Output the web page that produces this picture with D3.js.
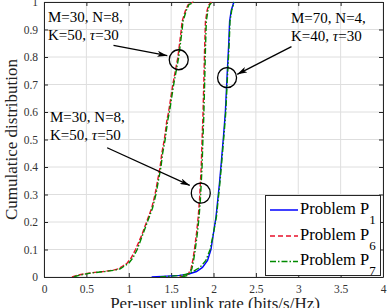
<!DOCTYPE html>
<html><head><meta charset="utf-8">
<script src="https://cdn.jsdelivr.net/npm/d3@7/dist/d3.min.js"></script>
<style>body{margin:0;background:#fff}svg{display:block}text{font-family:"Liberation Serif","Times New Roman",serif}</style>
</head><body><svg id="c" width="392" height="308"></svg>
<script>
// ---- data ----
const xTicks = [0, 0.5, 1, 1.5, 2, 2.5, 3, 3.5, 4];
const yTicks = [0, 0.1, 0.2, 0.3, 0.4, 0.5, 0.6, 0.7, 0.8, 0.9, 1];
const xTickLabels = ["0", "0.5", "1", "1.5", "2", "2.5", "3", "3.5", "4"];
const yTickLabels = ["0", "0.1", "0.2", "0.3", "0.4", "0.5", "0.6", "0.7", "0.8", "0.9", "1"];

// Group A: M=30,N=8,K=50,tau=30
const cdfA = [0, 0.005, 0.01, 0.015, 0.02, 0.025, 0.03, 0.04, 0.05, 0.07, 0.1, 0.15, 0.2, 0.25, 0.3, 0.35, 0.4, 0.45, 0.5, 0.57, 0.6, 0.7, 0.8, 0.9, 0.93, 0.97, 0.99, 1];
const rateA_P6 = [0.33, 0.38, 0.45, 0.55, 0.70, 0.82, 0.88, 0.93, 0.98, 1.03, 1.08, 1.15, 1.21, 1.27, 1.31, 1.34, 1.37, 1.39, 1.42, 1.45, 1.47, 1.52, 1.58, 1.62, 1.63, 1.67, 1.70, 1.76];
const rateA_P7 = [0.35, 0.40, 0.47, 0.57, 0.72, 0.84, 0.90, 0.95, 1.00, 1.05, 1.10, 1.16, 1.22, 1.28, 1.32, 1.35, 1.38, 1.40, 1.43, 1.46, 1.48, 1.53, 1.59, 1.63, 1.64, 1.68, 1.71, 1.77];
// Group B: M=30,N=8,K=50,tau=50
const cdfB = [0, 0.005, 0.015, 0.03, 0.06, 0.1, 0.16, 0.22, 0.28, 0.4, 0.5, 0.58, 0.7, 0.83, 0.88, 0.93, 0.97, 0.99, 1];
const rateB_P6 = [1.60, 1.68, 1.71, 1.735, 1.755, 1.775, 1.80, 1.82, 1.835, 1.855, 1.865, 1.875, 1.885, 1.895, 1.90, 1.905, 1.925, 1.945, 1.975];
const rateB_P7 = [1.62, 1.69, 1.72, 1.745, 1.765, 1.785, 1.81, 1.83, 1.845, 1.865, 1.875, 1.885, 1.895, 1.905, 1.91, 1.915, 1.935, 1.955, 1.985];
// Group C: M=70,N=4,K=40,tau=30
const cdfC = [0, 0.003, 0.006, 0.01, 0.02, 0.035, 0.06, 0.1, 0.16, 0.22, 0.34, 0.41, 0.52, 0.6, 0.73, 0.85, 0.93, 0.97, 1];
const rateC_P1 = [1.27, 1.45, 1.60, 1.70, 1.80, 1.87, 1.93, 1.97, 2.00, 2.03, 2.07, 2.09, 2.12, 2.14, 2.16, 2.18, 2.19, 2.21, 2.24];
const rateC_P7 = [1.37, 1.50, 1.62, 1.68, 1.76, 1.84, 1.91, 1.96, 2.00, 2.035, 2.075, 2.095, 2.125, 2.145, 2.165, 2.185, 2.195, 2.215, 2.245];

const seriesNames = ["Problem P", "Problem P", "Problem P"];
const seriesSubs = ["1", "6", "7"];
const annotLines = [["M=30, N=8,", "K=50, ", "=30"], ["M=30, N=8,", "K=50, ", "=50"], ["M=70, N=4,", "K=40, ", "=30"]];

// ---- layout ----
const W = 392, H = 308;
const m = {l: 44, t: 2, r: 9, b: 31};
const pw = W - m.l - m.r, ph = H - m.t - m.b;
const svg = d3.select("#c");
const x = d3.scaleLinear().domain([0, 4]).range([m.l, m.l + pw]);
const y = d3.scaleLinear().domain([0, 1]).range([m.t + ph, m.t]);

const blue = "#0000ff", red = "#e8102a", green = "#008a00";
const axisCol = "#262626";

svg.append("rect").attr("x", 0).attr("y", 0).attr("width", W).attr("height", H).attr("fill", "#fff");

// grid
const g = svg.append("g");
g.selectAll("line.gx").data(xTicks).join("line")
  .attr("x1", d => x(d)).attr("x2", d => x(d)).attr("y1", m.t).attr("y2", m.t + ph)
  .attr("stroke", "#dedede").attr("stroke-width", 1);
g.selectAll("line.gy").data(yTicks).join("line")
  .attr("y1", d => y(d)).attr("y2", d => y(d)).attr("x1", m.l).attr("x2", m.l + pw)
  .attr("stroke", "#dedede").attr("stroke-width", 1);

// axes
const xAx = d3.axisBottom(x).tickValues(xTicks).tickFormat((d, i) => xTickLabels[i]).tickSizeInner(-4).tickSizeOuter(0).tickPadding(8);
const yAx = d3.axisLeft(y).tickValues(yTicks).tickFormat((d, i) => yTickLabels[i]).tickSizeInner(-4).tickSizeOuter(0).tickPadding(6);
const gx = svg.append("g").attr("transform", `translate(0,${m.t + ph})`).call(xAx);
const gy = svg.append("g").attr("transform", `translate(${m.l},0)`).call(yAx);
const gxT = svg.append("g").attr("transform", `translate(0,${m.t})`).call(d3.axisTop(x).tickValues(xTicks).tickFormat("").tickSizeInner(-4).tickSizeOuter(0));
const gyR = svg.append("g").attr("transform", `translate(${m.l + pw},0)`).call(d3.axisRight(y).tickValues(yTicks).tickFormat("").tickSizeInner(-4).tickSizeOuter(0));
[gx, gy, gxT, gyR].forEach(a => {
  a.selectAll("path.domain").attr("stroke", axisCol).attr("stroke-width", 1);
  a.selectAll(".tick line").attr("stroke", axisCol);
  a.selectAll(".tick text").attr("fill", "#333").attr("font-size", 11.5).attr("font-family", "Liberation Serif");
});

// curves
svg.append("clipPath").attr("id", "cp").append("rect")
  .attr("x", m.l).attr("y", m.t - 1).attr("width", pw).attr("height", ph + 1);
const lineGen = (xs, ys) => d3.line().x((d, i) => x(xs[i])).y((d, i) => y(ys[i]))(ys);
const curves = [
  {xs: rateC_P1, ys: cdfC, c: blue, dash: null},
  {xs: rateA_P6, ys: cdfA, c: red, dash: "5,2"},
  {xs: rateB_P6, ys: cdfB, c: red, dash: "5,2"},
  {xs: rateA_P7, ys: cdfA, c: green, dash: "6,2,1.5,2"},
  {xs: rateB_P7, ys: cdfB, c: green, dash: "6,2,1.5,2"},
  {xs: rateC_P7, ys: cdfC, c: green, dash: "6,2,1.5,2"}
];
const cg = svg.append("g").attr("clip-path", "url(#cp)");
curves.forEach(cv => {
  cg.append("path").attr("d", lineGen(cv.xs, cv.ys)).attr("fill", "none")
    .attr("stroke", cv.c).attr("stroke-width", 1.4)
    .attr("stroke-dasharray", cv.dash);
});

// annotations: circles + arrows
const defs = svg.append("defs");
defs.append("marker").attr("id", "ah").attr("viewBox", "0 0 10 6").attr("refX", 10).attr("refY", 3)
  .attr("markerWidth", 10).attr("markerHeight", 6).attr("markerUnits", "userSpaceOnUse").attr("orient", "auto")
  .append("path").attr("d", "M0,0 L10,3 L0,6 L2.5,3 Z").attr("fill", "#000");

const circles = [{cx: 1.59, cy: 0.79}, {cx: 1.85, cy: 0.305}, {cx: 2.16, cy: 0.725}];
circles.forEach(c => {
  svg.append("ellipse").attr("cx", x(c.cx)).attr("cy", y(c.cy)).attr("rx", 9.5).attr("ry", 10)
    .attr("fill", "none").attr("stroke", "#000").attr("stroke-width", 1.3);
});
const arrows = [
  {x0: 0.82, y0: 0.842, x1: 1.455, y1: 0.805},
  {x0: 0.745, y0: 0.47, x1: 1.72, y1: 0.333},
  {x0: 2.92, y0: 0.838, x1: 2.28, y1: 0.737}
];
arrows.forEach(a => {
  svg.append("line").attr("x1", x(a.x0)).attr("y1", y(a.y0)).attr("x2", x(a.x1)).attr("y2", y(a.y1))
    .attr("stroke", "#000").attr("stroke-width", 1.3).attr("marker-end", "url(#ah)");
});

const annotPos = [{tx: 48, ty: 22}, {tx: 50, ty: 122}, {tx: 291, ty: 23}];
annotPos.forEach((p, i) => {
  svg.append("text").attr("x", p.tx).attr("y", p.ty).attr("font-size", 15).attr("fill", "#000")
    .text(annotLines[i][0]);
  const t2 = svg.append("text").attr("x", p.tx).attr("y", p.ty + 17.5).attr("font-size", 15).attr("fill", "#000");
  t2.append("tspan").text(annotLines[i][1]);
  t2.append("tspan").attr("font-style", "italic").text("\u03c4");
  t2.append("tspan").text(annotLines[i][2]);
});

svg.append("text").attr("x", 215).attr("y", 309).attr("text-anchor", "middle").attr("font-size", 17)
  .attr("fill", "#222").text("Per-user uplink rate (bits/s/Hz)");
svg.append("text").attr("transform", `translate(17,${m.t + ph / 2}) rotate(-90)`).attr("text-anchor", "middle")
  .attr("font-size", 17).attr("fill", "#222").text("Cumulatice distribution");

const lg = svg.append("g");
lg.append("rect").attr("x", 265.5).attr("y", 195.5).attr("width", 115).attr("height", 80)
  .attr("fill", "#fff").attr("stroke", "#262626").attr("stroke-width", 1);
const legColors = [blue, red, green];
const legDash = [null, "5,3", "6,2,1.5,2"];
const legY = [210, 236, 261.5];
seriesNames.forEach((nm, i) => {
  lg.append("line").attr("x1", 270).attr("x2", 298).attr("y1", legY[i]).attr("y2", legY[i])
    .attr("stroke", legColors[i]).attr("stroke-width", 1.5).attr("stroke-dasharray", legDash[i]);
  const t = lg.append("text").attr("x", 300).attr("y", legY[i] + 3.5).attr("font-size", 16.5).attr("fill", "#000");
  t.append("tspan").text(nm);
  t.append("tspan").attr("dy", 10).attr("font-size", 13).text(seriesSubs[i]);
});
</script></body></html>
